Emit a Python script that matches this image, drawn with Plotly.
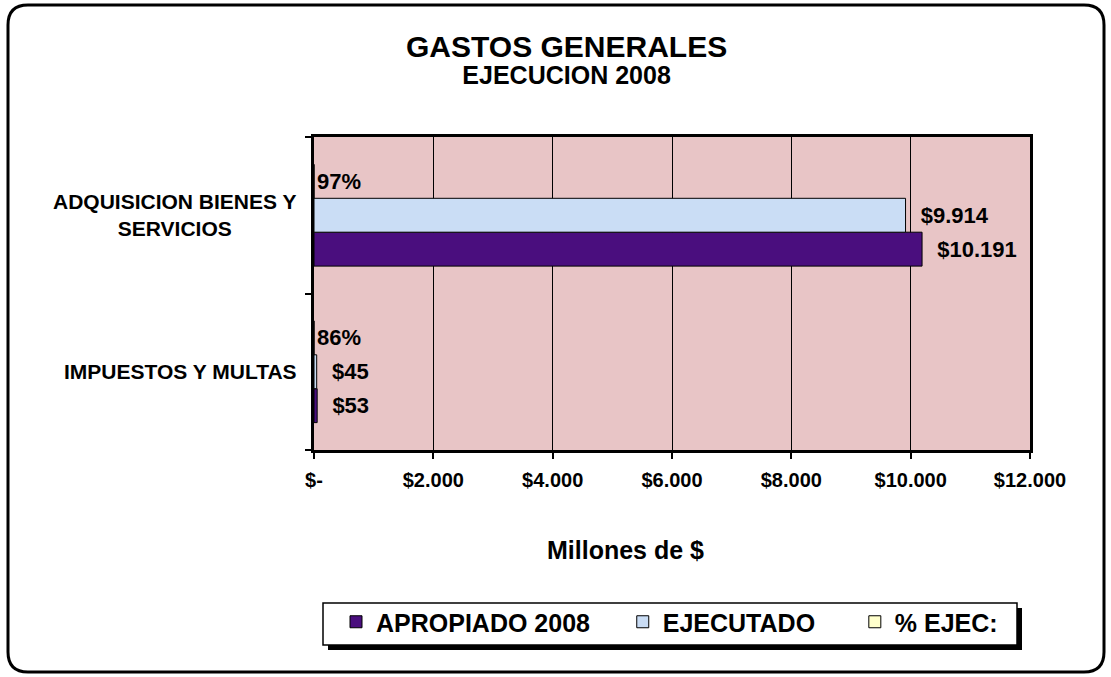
#!/usr/bin/env python3
# -*- coding: utf-8 -*-
"""
Gastos generales - ejecucion 2008
Barras horizontales: apropiado vs ejecutado y porcentaje de ejecucion.
"""

import plotly.graph_objects as go

# datos (millones de $)
categorias = ['IMPUESTOS Y MULTAS', 'ADQUISICION BIENES Y SERVICIOS']
etiquetas_cat = ['IMPUESTOS Y MULTAS', 'ADQUISICION BIENES Y<br>SERVICIOS']
apropiado = [53, 10191]
ejecutado = [45, 9914]
pct_ejec = [0.86, 0.97]

tick_vals = [0, 2000, 4000, 6000, 8000, 10000, 12000]
tick_text = ['$-', '$2.000', '$4.000', '$6.000', '$8.000', '$10.000', '$12.000']

COLORS = {
    'apropiado': '#4A0E7E',
    'ejecutado': '#CADDF5',
    'pct': '#FFFFCC',
    'fondo': '#E8C5C6',
}
FONT = 'Arial, Liberation Sans, sans-serif'
NBSP = '\u00a0'

# area de trazado en pixeles
W, H = 1111, 677
L, R, T, B = 314, 1030, 137, 450


def px(x):
    return (x - L) / (R - L)


def py(y):
    return (B - y) / (B - T)


fig = go.Figure()

fig.add_trace(go.Bar(
    name='APROPIADO 2008' + NBSP * 4,
    y=categorias, x=apropiado, orientation='h',
    marker=dict(color=COLORS['apropiado'], line=dict(color='black', width=1)),
    texttemplate=NBSP * 2 + '$%{x:,.0f}',
    textposition='outside', constraintext='none', cliponaxis=False,
    textfont=dict(family=FONT, size=22, color='black', weight='bold'),
))
fig.add_trace(go.Bar(
    name='EJECUTADO' + NBSP * 5,
    y=categorias, x=ejecutado, orientation='h',
    marker=dict(color=COLORS['ejecutado'], line=dict(color='black', width=1)),
    texttemplate=NBSP * 2 + '$%{x:,.0f}',
    textposition='outside', constraintext='none', cliponaxis=False,
    textfont=dict(family=FONT, size=22, color='black', weight='bold'),
))
fig.add_trace(go.Bar(
    name='% EJEC:',
    y=categorias, x=pct_ejec, orientation='h',
    marker=dict(color=COLORS['pct'], line=dict(color='black', width=1)),
    texttemplate='%{x:.0%}',
    textposition='outside', constraintext='none', cliponaxis=False,
    textfont=dict(family=FONT, size=22, color='black', weight='bold'),
))

# marco redondeado del grafico
x0, x1, y0, y1, rr = px(8), px(1104), py(5), py(672), 20
rx, ry = rr / (R - L), rr / (B - T)
marco = (f'M {x0 + rx},{y0} L {x1 - rx},{y0} Q {x1},{y0} {x1},{y0 - ry} '
         f'L {x1},{y1 + ry} Q {x1},{y1} {x1 - rx},{y1} '
         f'L {x0 + rx},{y1} Q {x0},{y1} {x0},{y1 + ry} '
         f'L {x0},{y0 - ry} Q {x0},{y0} {x0 + rx},{y0} Z')

shapes = [
    dict(type='path', xref='paper', yref='paper', path=marco,
         line=dict(color='black', width=3), layer='below'),
    # caja de la leyenda con sombra
    dict(type='rect', xref='paper', yref='paper',
         x0=px(328), x1=px(1022), y0=py(650), y1=py(608),
         fillcolor='black', line=dict(width=0), layer='below'),
    dict(type='rect', xref='paper', yref='paper',
         x0=px(323), x1=px(1017), y0=py(645), y1=py(603),
         fillcolor='white', line=dict(color='black', width=1.5), layer='below'),
]

annotations = [
    dict(text='<span style="font-size:30px">GASTOS GENERALES</span><br>'
              '<span style="font-size:25px">EJECUCION 2008</span>',
         xref='paper', yref='paper', x=px(566), y=py(59),
         xanchor='center', yanchor='middle', showarrow=False, align='center',
         font=dict(family=FONT, size=20.5, color='black', weight='bold')),
    dict(text='Millones de $', xref='paper', yref='paper', x=px(625), y=py(550),
         xanchor='center', yanchor='middle', showarrow=False,
         font=dict(family=FONT, size=25, color='black', weight='bold')),
]
for cat, etiqueta in zip(categorias, etiquetas_cat):
    annotations.append(dict(
        text=etiqueta, xref='paper', yref='y', x=px(299), y=cat,
        xanchor='right', yanchor='middle', align='center', showarrow=False,
        font=dict(family=FONT, size=21, color='black', weight='bold')))

fig.update_layout(
    width=W, height=H, autosize=False,
    margin=dict(l=L, r=W - R, t=T, b=H - B, pad=0),
    paper_bgcolor='white',
    plot_bgcolor=COLORS['fondo'],
    separators=',.',
    barmode='group', bargap=0.35, bargroupgap=0,
    showlegend=True,
    legend=dict(
        orientation='h', x=px(336), y=py(599), xanchor='left', yanchor='top',
        bgcolor='rgba(0,0,0,0)', borderwidth=0,
        font=dict(family=FONT, size=25, color='black', weight='bold'),
        traceorder='normal',
    ),
    xaxis=dict(
        range=[0, 12000], tickvals=tick_vals, ticktext=tick_text,
        showgrid=True, gridcolor='black', gridwidth=1,
        showline=True, linecolor='black', linewidth=3, mirror=True,
        ticks='outside', ticklen=6, tickwidth=1.5, tickcolor='black',
        ticklabelstandoff=4,
        tickfont=dict(family=FONT, size=20, color='black', weight='bold'),
        zeroline=False, fixedrange=True,
    ),
    yaxis=dict(
        type='category', categoryorder='array', categoryarray=categorias,
        showgrid=False, showticklabels=False,
        showline=True, linecolor='black', linewidth=3, mirror=True,
        ticks='outside', tickson='boundaries', ticklen=6, tickwidth=1.5,
        tickcolor='black', zeroline=False, fixedrange=True,
    ),
    shapes=shapes,
    annotations=annotations,
)

fig.write_html(
    'out.html',
    config={'displayModeBar': False},
    post_script="document.body.style.margin='0';document.body.style.overflow='hidden';",
)
